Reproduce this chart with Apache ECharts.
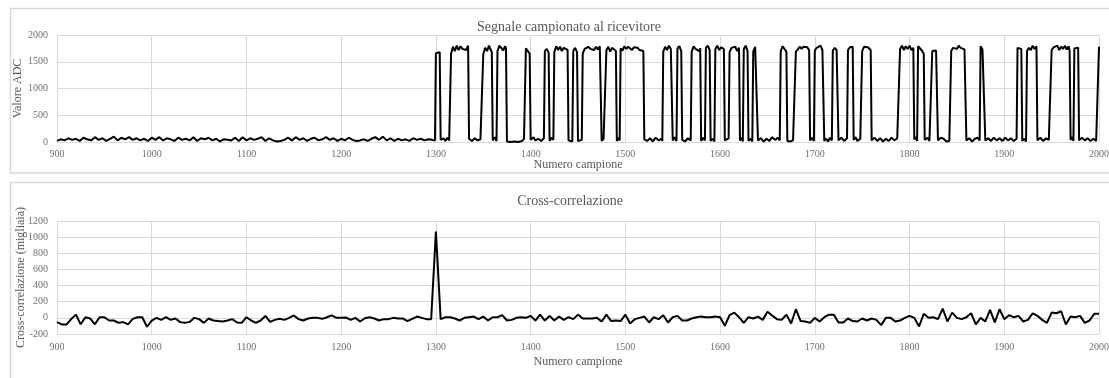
<!DOCTYPE html>
<html>
<head>
<meta charset="utf-8">
<script src="https://cdn.jsdelivr.net/npm/echarts@6/dist/echarts.min.js"></script>
<style>
  html, body { margin: 0; padding: 0; background: #fff; }
  #chart { width: 1109px; height: 378px; }
</style>
</head>
<body>
<div id="chart"></div>
<script>
// ---- dati ----
var xTicks = [900, 1000, 1100, 1200, 1300, 1400, 1500, 1600, 1700, 1800, 1900, 2000];

// segnale ADC a riposo, campioni 900..1296 ogni 4
var idleStart = 900;
var idleStep = 4;
var idleValues = [
    20,50,30,70,40,60,20,80,50,30,
    90,40,70,20,60,100,30,80,50,90,
    40,70,30,60,20,80,40,90,30,70,
    50,20,80,40,60,30,90,20,70,50,
    80,30,60,10,50,40,30,80,20,90,
    30,70,40,60,90,20,70,30,10,20,
    40,80,30,90,40,70,20,60,80,30,
    50,90,40,70,20,60,30,80,40,20,
    30,50,20,60,90,40,100,30,70,20,
    60,30,50,20,70,40,60,30,50,40
];

// segnale ADC durante la trasmissione [campione, valore]
var adcPoints = [
    [1299,30],[1300,1660],[1302,1690],[1304,1680],[1305,40],[1308,70],[1310,20],[1312,80],[1314,30],[1315,60],
    [1316,1650],[1318,1780],[1320,1700],[1322,1800],[1324,1720],[1326,1790],[1328,1740],[1330,1770],[1332,1720],[1334,1800],
    [1335,60],[1338,20],[1341,70],[1344,30],[1347,50],[1349,40],
    [1350,1640],[1352,1760],[1354,1700],[1356,1800],[1358,1720],[1359,1680],[1360,30],[1362,90],[1364,20],
    [1365,1700],[1367,1800],[1369,1760],[1371,1710],[1373,1790],[1374,1750],
    [1375,10],[1379,0],[1383,10],[1387,0],[1391,20],[1393,60],[1394,30],
    [1395,1750],[1397,1720],[1399,1650],[1400,40],[1403,90],[1405,30],[1408,60],[1411,20],[1414,70],
    [1415,1700],[1417,1740],[1419,1670],[1420,20],[1422,80],[1424,40],
    [1425,1680],[1427,1790],[1429,1720],[1431,1780],[1433,1700],[1435,1760],[1437,1740],[1439,1720],
    [1440,30],[1442,20],[1444,10],[1445,1700],[1447,1760],[1449,1680],[1450,20],[1452,10],[1454,40],
    [1455,1650],[1457,1740],[1459,1720],[1461,1780],[1463,1740],[1465,1760],[1467,1720],[1469,1780],[1471,1730],[1473,1790],[1474,1760],
    [1475,20],[1477,60],[1479,30],[1480,1720],[1482,1780],[1484,1690],[1486,1760],[1488,1740],[1490,1700],
    [1491,20],[1493,80],[1494,30],
    [1495,1750],[1497,1710],[1499,1790],[1501,1740],[1503,1780],[1505,1760],[1507,1720],[1509,1770],[1511,1740],[1513,1760],[1515,1720],[1517,1740],[1519,1700],
    [1520,50],[1523,20],[1526,70],[1529,10],[1532,80],[1535,30],[1538,60],[1539,20],
    [1540,1690],[1542,1780],[1544,1720],[1546,1800],[1548,1740],[1549,1760],[1550,30],[1552,90],[1554,20],
    [1555,1750],[1557,1790],[1559,1700],[1560,40],[1563,10],[1566,70],[1569,30],
    [1570,1680],[1572,1790],[1574,1740],[1576,1760],[1578,1700],[1579,1750],[1580,20],[1582,80],[1584,30],
    [1585,1760],[1587,1800],[1589,1720],[1590,20],[1592,60],[1594,10],
    [1595,1740],[1597,1800],[1599,1720],[1601,1770],[1603,1750],[1604,1740],[1605,30],[1607,20],[1609,70],
    [1610,1680],[1612,1760],[1614,1730],[1616,1780],[1618,1700],[1620,1760],[1621,30],[1623,80],[1624,10],
    [1625,1740],[1627,1800],[1629,1700],[1630,20],[1632,60],[1634,10],
    [1635,1690],[1637,1780],[1639,1760],
    [1640,30],[1643,70],[1646,10],[1649,60],[1652,20],[1655,90],[1658,40],[1661,80],[1663,30],
    [1664,1700],[1666,1790],[1668,1760],[1670,1690],[1671,20],[1674,10],[1677,30],[1679,50],
    [1680,1690],[1682,1730],[1684,1780],[1686,1740],[1688,1780],[1690,1750],[1692,1770],[1694,1720],
    [1695,30],[1697,80],[1699,20],
    [1700,1710],[1702,1760],[1704,1780],[1706,1800],[1708,1720],[1709,1700],
    [1710,20],[1712,60],[1714,10],[1716,80],[1718,30],
    [1719,1710],[1721,1760],[1723,1720],[1724,1690],[1725,30],[1728,80],[1731,20],[1734,70],
    [1735,1720],[1737,1770],[1739,1800],[1740,1780],[1741,40],[1743,90],[1745,20],[1748,60],[1749,30],
    [1750,1700],[1752,1780],[1754,1760],[1756,1770],[1758,1740],[1759,1720],
    [1760,30],[1763,80],[1766,20],[1769,70],[1772,10],[1775,60],[1778,20],[1781,80],[1784,30],[1787,70],[1789,40],
    [1790,1740],[1792,1800],[1794,1720],[1796,1790],[1798,1740],[1800,1800],[1802,1720],[1804,1760],
    [1805,50],[1807,90],[1808,20],
    [1809,1790],[1811,1780],[1813,1710],[1815,1650],[1816,40],[1819,80],[1821,20],[1823,30],
    [1824,1700],[1826,1730],[1828,1710],[1829,1720],
    [1830,30],[1833,80],[1836,60],[1839,10],[1842,20],[1843,40],
    [1844,1700],[1846,1760],[1848,1780],[1850,1740],[1852,1800],[1854,1760],[1856,1790],[1858,1730],[1859,1700],
    [1860,30],[1863,70],[1866,10],[1869,60],[1872,80],[1874,30],
    [1875,1790],[1877,1730],[1879,1760],
    [1880,30],[1883,70],[1886,20],[1889,80],[1892,30],[1895,70],[1898,20],[1901,80],[1904,30],[1907,70],[1910,20],[1913,60],
    [1914,1760],[1916,1780],[1918,1740],[1919,20],[1921,60],[1923,10],
    [1924,1700],[1926,1760],[1928,1720],[1930,1800],[1932,1740],[1934,1790],
    [1935,30],[1938,80],[1941,20],[1944,70],[1947,40],[1949,60],
    [1950,1720],[1952,1770],[1954,1740],[1956,1800],[1958,1720],[1960,1780],[1962,1740],[1964,1800],[1966,1730],[1968,1790],[1969,1700],
    [1970,40],[1972,90],[1973,20],
    [1974,1750],[1976,1780],[1978,1760],
    [1979,30],[1982,80],[1985,30],[1988,70],[1991,20],[1994,60],[1997,20],[1999,50],
    [2000,1780]
];

// cross-correlazione (migliaia), campioni 900..2000 ogni 5
var corrStart = 900;
var corrStep = 5;
var corrValues = [
    -53,-82,-82,-15,40,-80,8,-8,-80,8,8,-33,-33,-62,-53,-80,-12,8,8,-110,
    -33,0,-25,8,-25,-8,-53,-62,-50,0,-16,-62,-8,-33,-40,-45,-33,-16,-57,-62,
    8,-33,-62,-33,25,-50,-25,-12,-25,0,30,-16,-33,-8,0,0,-12,8,30,0,
    0,5,-25,0,-45,-5,8,-8,-33,-16,-16,0,-8,-8,-40,-12,16,0,-16,-16,
    1070,-16,8,8,-8,-33,0,8,16,-16,16,-33,8,8,33,-33,-25,0,8,0,
    25,-33,40,-33,25,-33,16,-25,8,-16,40,-8,-8,-8,0,-45,40,-40,-33,-40,
    40,-70,-16,0,16,-57,8,-16,33,-57,8,25,-33,-33,-8,8,16,8,8,16,
    8,-98,33,65,8,-62,8,-8,16,-25,75,30,-16,-25,40,-70,107,-40,-45,-62,
    0,-45,8,40,40,-57,-57,-8,-40,-45,-8,-33,-8,-25,-90,0,0,-45,-33,0,
    25,0,-107,50,0,8,-16,115,-45,65,0,-16,8,57,-82,0,-45,98,-57,107,
    -16,33,8,25,-45,-25,57,25,-25,-62,65,57,82,-82,16,8,25,-62,-33,50,
    50
];

var adcTicks = [0, 500, 1000, 1500, 2000];
var corrTicks = [-200, 0, 200, 400, 600, 800, 1000, 1200];

// ---- costruzione serie ----
var adcData = [];
for (var i = 0; i < idleValues.length; i++) {
    adcData.push([idleStart + i * idleStep, idleValues[i]]);
}
adcData = adcData.concat(adcPoints);

var corrData = [];
for (var j = 0; j < corrValues.length; j++) {
    corrData.push([corrStart + j * corrStep, corrValues[j]]);
}

var FONT = '"Liberation Serif", "DejaVu Serif", serif';
var gridColor = '#d9d9d9';
var textColor = '#595959';
var plainNumber = function(v) { return String(v); };

var xAxisBase = function(gridIndex, nameGap, labelMargin) {
    return {
        gridIndex: gridIndex,
        type: 'value',
        min: xTicks[0],
        max: xTicks[xTicks.length - 1],
        interval: 100,
        name: 'Numero campione',
        nameLocation: 'middle',
        nameGap: nameGap,
        nameMoveOverlap: false,
        nameTextStyle: { fontFamily: FONT, fontSize: 12, color: textColor },
        axisLine: { show: false },
        axisTick: { show: false },
        axisLabel: { fontFamily: FONT, fontSize: 10, color: '#6f6f6f', margin: labelMargin, formatter: plainNumber },
        splitLine: { show: true, lineStyle: { color: gridColor, width: 1 } }
    };
};

var yAxisBase = function(gridIndex, name, ticks, step, nameGap) {
    return {
        gridIndex: gridIndex,
        type: 'value',
        min: ticks[0],
        max: ticks[ticks.length - 1],
        interval: step,
        name: name,
        nameLocation: 'middle',
        nameGap: nameGap,
        nameMoveOverlap: false,
        nameTextStyle: { fontFamily: FONT, fontSize: 12, color: textColor },
        axisLine: { show: false },
        axisTick: { show: false },
        axisLabel: { fontFamily: FONT, fontSize: 10, color: '#6f6f6f', margin: 9, formatter: plainNumber },
        splitLine: { show: true, lineStyle: { color: gridColor, width: 1 } }
    };
};

var chart = echarts.init(document.getElementById('chart'), null, { renderer: 'canvas' });

var option = {
    animation: false,
    backgroundColor: '#fff',
    title: [
        {
            text: 'Segnale campionato al ricevitore',
            left: 564, top: 15, textAlign: 'center',
            textStyle: { fontFamily: FONT, fontSize: 14, fontWeight: 'normal', color: textColor }
        },
        {
            text: 'Cross-correlazione',
            left: 565, top: 189, textAlign: 'center',
            textStyle: { fontFamily: FONT, fontSize: 14, fontWeight: 'normal', color: textColor }
        }
    ],
    graphic: [
        { type: 'rect', shape: { x: 10.5, y: 8.5, width: 1120, height: 164.5 },
          style: { fill: 'none', stroke: gridColor, lineWidth: 1.5 }, silent: true },
        { type: 'rect', shape: { x: 10.5, y: 182.5, width: 1120, height: 220 },
          style: { fill: 'none', stroke: gridColor, lineWidth: 1.5 }, silent: true }
    ],
    grid: [
        { left: 57, right: 10, top: 35, height: 107, outerBoundsMode: 'none', containLabel: false },
        { left: 57, right: 10, top: 221, height: 113, outerBoundsMode: 'none', containLabel: false }
    ],
    xAxis: [xAxisBase(0, 17, 7), xAxisBase(1, 22, 8)],
    yAxis: [
        yAxisBase(0, 'Valore ADC', adcTicks, 500, 33),
        yAxisBase(1, 'Cross-correlazione (migliaia)', corrTicks, 200, 30)
    ],
    series: [
        {
            name: 'Valore ADC',
            type: 'line',
            xAxisIndex: 0, yAxisIndex: 0,
            data: adcData,
            showSymbol: false,
            lineStyle: { color: '#000', width: 2 },
            itemStyle: { color: '#000' }
        },
        {
            name: 'Cross-correlazione',
            type: 'line',
            xAxisIndex: 1, yAxisIndex: 1,
            data: corrData,
            showSymbol: false,
            lineStyle: { color: '#000', width: 2 },
            itemStyle: { color: '#000' }
        }
    ]
};

chart.setOption(option);
window.addEventListener('resize', function() {
    chart.resize();
});
</script>
</body>
</html>
